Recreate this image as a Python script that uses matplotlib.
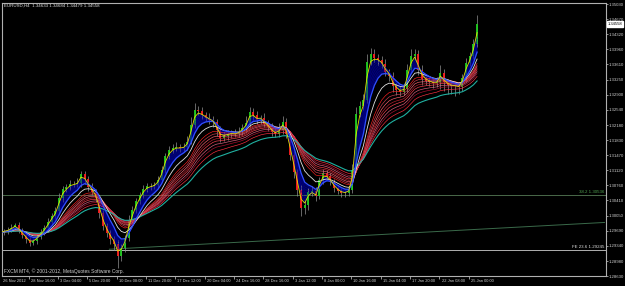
import numpy as np
import pandas as pd
import matplotlib
matplotlib.use("Agg")
import matplotlib.pyplot as plt
from matplotlib.transforms import blended_transform_factory

plt.rcParams['font.family'] = ['Liberation Sans', 'DejaVu Sans']

# EURUSD H4, one candle per two H4 bars
closes = [1.29665,
          1.29689, 1.29712, 1.29759, 1.29830, 1.29712, 1.29595, 1.29501, 1.29407, 1.29454, 1.29548,
          1.29665, 1.29759, 1.29901, 1.30042, 1.30159, 1.30465, 1.30677, 1.30724, 1.30795, 1.30795,
          1.30818, 1.31030, 1.30912, 1.30724, 1.30606, 1.30465, 1.30112, 1.29807, 1.29642, 1.29501,
          1.29383, 1.29101, 1.29289, 1.29524, 1.29948, 1.30183, 1.30395, 1.30536, 1.30677, 1.30748,
          1.30748, 1.30771, 1.30889, 1.31124, 1.31454, 1.31595, 1.31642, 1.31665, 1.31642, 1.31665,
          1.31783, 1.32183, 1.32536, 1.32512, 1.32418, 1.32348, 1.32301, 1.32254, 1.32065, 1.31877,
          1.31924, 1.31971, 1.31995, 1.31971, 1.32018, 1.32112, 1.32230, 1.32489, 1.32418, 1.32301,
          1.32348, 1.32207, 1.32136, 1.32018, 1.31971, 1.32065, 1.32254, 1.31971, 1.31477, 1.31077,
          1.30654, 1.30230, 1.30301, 1.30606, 1.30630, 1.30512, 1.30889, 1.31054, 1.30983, 1.30842,
          1.30701, 1.30630, 1.30583, 1.30583, 1.30654, 1.31124, 1.32442, 1.32630, 1.32771, 1.33665,
          1.33854, 1.33759, 1.33712, 1.33618, 1.33430, 1.33336, 1.33101, 1.33007, 1.32959, 1.33030,
          1.33477, 1.33806, 1.33854, 1.33477, 1.33265, 1.33218, 1.33195, 1.33171, 1.33195, 1.33406,
          1.33195, 1.33124, 1.33101, 1.33101, 1.33077, 1.33289, 1.33642, 1.33806, 1.34089, 1.34558]

# wick lengths in pips
wick_up = [6, 5, 7, 9, 5, 6, 5, 8, 6, 7, 6,
           8, 7, 9, 8, 10, 12, 8, 7, 9, 8,
           12, 8, 6, 7, 9, 8, 6, 7, 6, 8,
           6, 10, 9, 8, 12, 9, 8, 7, 9, 8,
           7, 8, 10, 9, 8, 10, 9, 12, 8, 10,
           14, 20, 16, 10, 9, 8, 12, 9, 8, 10,
           12, 9, 8, 10, 12, 10, 16, 12, 10, 9,
           8, 12, 9, 10, 12, 16, 14, 9, 8, 10,
           8, 12, 10, 9, 12, 10, 8, 9, 7, 8,
           7, 8, 6, 8, 10, 14, 16, 12, 14, 18,
           14, 12, 10, 9, 12, 8, 9, 7, 10, 12,
           14, 16, 12, 10, 12, 8, 10, 9, 12, 18,
           10, 8, 9, 7, 8, 10, 12, 10, 12, 22]
wick_dn = [8, 6, 7, 5, 6, 8, 7, 10, 6, 5, 6,
           5, 6, 5, 7, 8, 6, 9, 7, 6, 8,
           7, 10, 12, 9, 8, 10, 12, 9, 10, 12,
           14, 28, 12, 9, 8, 7, 8, 6, 7, 8,
           9, 7, 6, 5, 7, 6, 8, 7, 9, 8,
           6, 5, 8, 10, 9, 8, 10, 12, 14, 10,
           8, 9, 10, 8, 7, 8, 6, 10, 12, 9,
           10, 8, 9, 10, 8, 7, 9, 10, 12, 14,
           15, 18, 15, 12, 10, 12, 8, 9, 10, 8,
           9, 8, 10, 9, 8, 6, 5, 8, 10, 6,
           8, 10, 12, 10, 9, 12, 14, 12, 10, 8,
           7, 8, 10, 12, 14, 10, 9, 12, 10, 16,
           20, 22, 18, 24, 16, 10, 8, 7, 6, 6]

date_labels = ["28 Nov 16:00", "3 Dec 04:00", "5 Dec 20:00", "10 Dec 08:00", "11 Dec 20:00",
               "17 Dec 12:00", "20 Dec 04:00", "24 Dec 16:00", "28 Dec 16:00", "3 Jan 12:00",
               "8 Jan 00:00", "10 Jan 16:00", "15 Jan 04:00", "17 Jan 20:00", "22 Jan 08:00",
               "25 Jan 00:00"]
first_label = "26 Nov 2012"
price_ticks = [1.35030, 1.34670, 1.34320, 1.33960, 1.33610, 1.33250, 1.32900, 1.32540, 1.32180,
               1.31830, 1.31470, 1.31120, 1.30760, 1.30410, 1.30050, 1.29690, 1.29340, 1.28980,
               1.28630]

title = "EURUSD,H4  1.34633 1.34684 1.34479 1.34558"
last_price = 1.34558
fibo_level = 1.30536
fibo_text = "38.2 1.30536"
fe_level = 1.29245
fe_text = "FE 23.6 1.29245"
trend_bars = [60, 330]
trend_prices = [1.29260, 1.29890]

blue_spans = [2.5, 3, 3.5, 4, 4.5, 5, 5.5]
red_spans = [12, 13.5, 15, 16.5, 18, 20, 22, 25]
red_cols = ['#ff2020', '#d04050', '#ff6070', '#c02030', '#ff4050', '#e06080', '#b01030', '#ff3040']

n = len(closes)
x = np.arange(n) * 2 + 0.5
c = np.array(closes)
o = np.r_[c[0], c[:-1]]
hi = np.maximum(o, c) + np.array(wick_up) * 0.0001
lo = np.minimum(o, c) - np.array(wick_dn) * 0.0001
s = pd.Series(closes)

fig = plt.figure(figsize=(6.25, 2.86), dpi=100, facecolor='black')
ax = fig.add_axes([2 / 625, 10 / 286, 604 / 625, 273 / 286])
ax.set_facecolor('black')

fast = s.ewm(span=2, adjust=False).mean()
edge = s.ewm(span=6, adjust=False).mean()
ax.fill_between(x, fast, edge, color='#00005a', lw=0, zorder=1)

up = c >= o
ax.vlines(x, lo, hi, color='#909090', lw=0.5, zorder=2)
ax.vlines(x[up], o[up], c[up], color='#20d020', lw=1.3, zorder=2)
ax.vlines(x[~up], o[~up], c[~up], color='#ff2020', lw=1.3, zorder=2)

for sp in blue_spans:
    ax.plot(x, s.ewm(span=sp, adjust=False).mean(), color='#000098', lw=0.3, zorder=3)
for sp, col in zip(red_spans, red_cols):
    ax.plot(x, s.ewm(span=sp, adjust=False).mean(), color=col, lw=0.45, zorder=3)
ax.plot(x, s.ewm(span=30, adjust=False).mean(), color='#20b0a0', lw=0.8, zorder=3)
ax.plot(x, s.ewm(span=9, adjust=False).mean(), color='#e0e0e0', lw=0.6, zorder=4)
ax.plot(x, edge, color='#3050ff', lw=0.9, zorder=4)
ax.plot(x, fast, color='#e0e000', lw=0.6, zorder=4)

# objects
ax.axhline(fibo_level, color='#4a6a4a', lw=0.7, zorder=1)
ax.axhline(fe_level, color='#b0b0b0', lw=0.7, zorder=1)
ax.plot(trend_bars, trend_prices, color='#3a6a4a', lw=0.7, zorder=1)
tr = blended_transform_factory(ax.transAxes, ax.transData)
ax.text(0.997, fibo_level + 0.0002, fibo_text, transform=tr, ha='right', va='bottom',
        color='#50a050', fontsize=3.2)
ax.text(0.997, fe_level + 0.0002, fe_text, transform=tr, ha='right', va='bottom',
        color='#e0e0e0', fontsize=3.2)

ax.set_xlim(1.44, 330.8)
ax.set_ylim(1.28630, 1.35054)

for sp in ax.spines.values():
    sp.set_color('#b0b0b0')
    sp.set_linewidth(0.8)

ax.yaxis.tick_right()
ax.set_yticks(price_ticks)
ax.set_yticklabels(["%.5f" % v for v in price_ticks])
ax.tick_params(axis='y', colors='#d0d0d0', labelsize=3.1, length=1.5, width=0.5, pad=0.6)
ax.set_xticks([16 * (k + 1) for k in range(len(date_labels))])
ax.set_xticklabels([])
ax.tick_params(axis='x', colors='#d0d0d0', length=2, width=0.5)

tx = blended_transform_factory(ax.transData, ax.transAxes)
ax.text(1.8, -0.012, first_label, transform=tx, ha='left', va='top', color='#d0d0d0', fontsize=2.9)
for k, lab in enumerate(date_labels):
    ax.text(16 * (k + 1) + 1.1, -0.012, lab, transform=tx, ha='left', va='top',
            color='#d0d0d0', fontsize=2.9)

ax.text(1.0035, last_price, "%.5f" % last_price, transform=tr, ha='left', va='center',
        color='black', fontsize=3.0, clip_on=False,
        bbox=dict(boxstyle='square,pad=0.15', fc='white', ec='white'))

ax.text(0.0025, 0.991, title, transform=ax.transAxes, ha='left', va='center',
        color='#e0e0e0', fontsize=3.2)
ax.text(0.0025, 0.018, "FXCM MT4, \u00a9 2001-2012, MetaQuotes Software Corp.",
        transform=ax.transAxes, ha='left', va='center', color='#d0d0d0', fontsize=3.5)

fig.savefig("out.png", dpi=100, facecolor='black')
